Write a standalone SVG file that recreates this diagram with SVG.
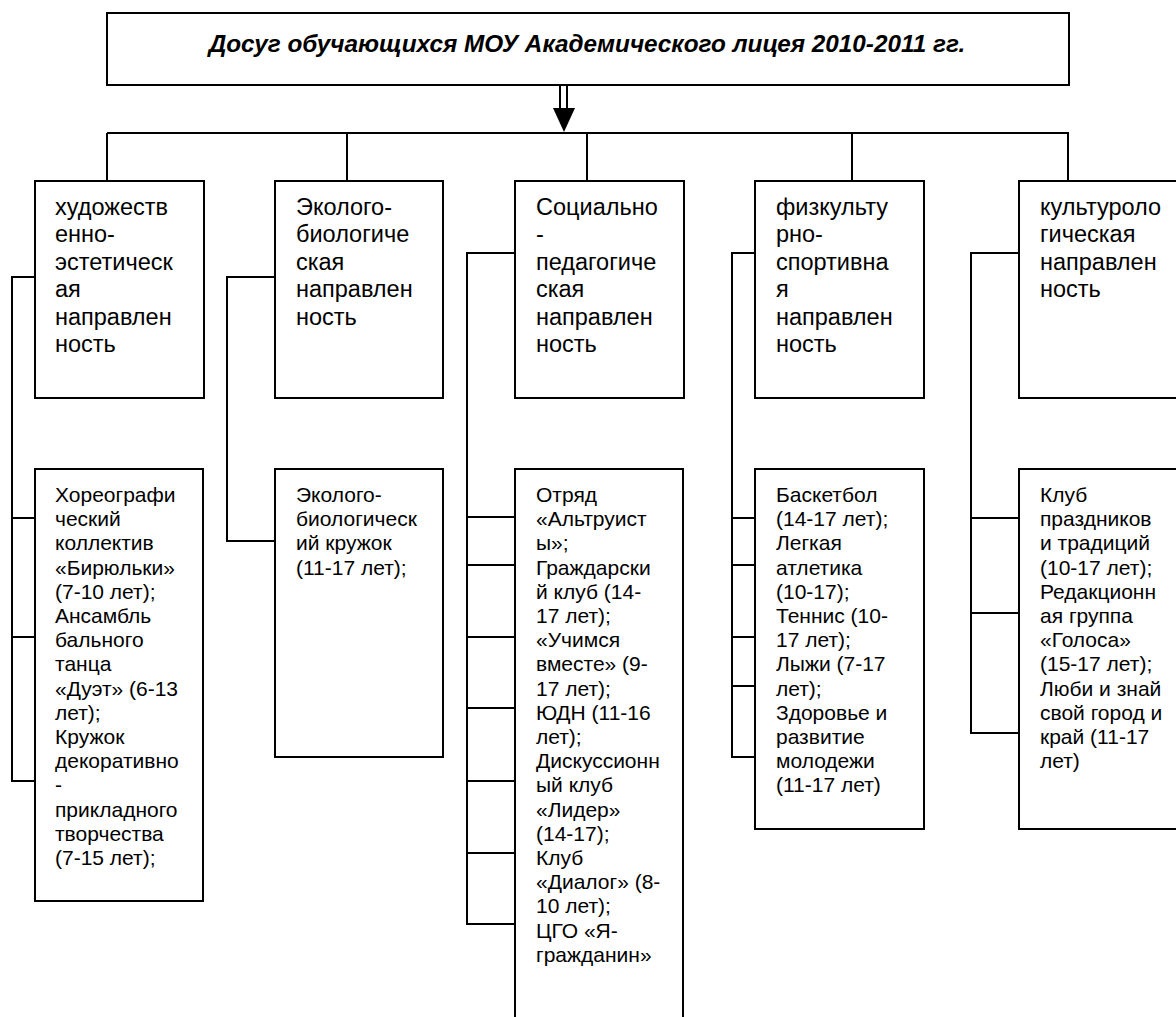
<svg xmlns="http://www.w3.org/2000/svg" width="1176" height="1017" viewBox="0 0 1176 1017">
<style>
.box{fill:#fff;stroke:#000;stroke-width:2}
.ln{fill:none;stroke:#000;stroke-width:2}
.t{font-family:"Liberation Sans",Arial,sans-serif;font-size:23.5px;fill:#000}
.s{font-family:"Liberation Sans",Arial,sans-serif;font-size:21px;fill:#000}
.title{font-family:"Liberation Sans",Arial,sans-serif;font-size:24.3px;font-weight:bold;font-style:italic;fill:#000}
</style>
<rect width="1176" height="1017" fill="#fff"/>
<g id="connectors">
<path class="ln" d="M560,85V110M567,85V110"/>
<polygon points="553,108 575,108 564,132" fill="#000"/>
<path class="ln" d="M107,133H1069M107,133V181M347,133V181M587,133V181M852,133V181M1068,133V181"/>
<path class="ln" d="M35,277H12V781H35M12,518H35M12,637H35"/>
<path class="ln" d="M275,277H227V541H275"/>
<path class="ln" d="M515,253H467V924H515M467,517H515M467,565H515M467,637H515M467,708H515M467,781H515M467,853H515"/>
<path class="ln" d="M755,253H732V757H755M732,518H755M732,565H755M732,637H755M732,686H755"/>
<path class="ln" d="M1019,253H971V733H1019M971,518H1019M971,613H1019"/>
</g>
<g id="title">
<rect class="box" x="107" y="13" width="962" height="72"/>
<text class="title" x="587" y="52" text-anchor="middle">Досуг обучающихся МОУ Академического лицея 2010-2011 гг.</text>
</g>
<g id="n1">
<rect class="box" x="35" y="181" width="169" height="217"/>
<text class="t" x="55" y="215"><tspan x="55">художеств</tspan><tspan x="55" dy="27.4">енно-</tspan><tspan x="55" dy="27.4">эстетическ</tspan><tspan x="55" dy="27.4">ая</tspan><tspan x="55" dy="27.4">направлен</tspan><tspan x="55" dy="27.4">ность</tspan></text>
</g>
<g id="n2">
<rect class="box" x="275" y="181" width="168" height="217"/>
<text class="t" x="296" y="215"><tspan x="296">Эколого-</tspan><tspan x="296" dy="27.4">биологиче</tspan><tspan x="296" dy="27.4">ская</tspan><tspan x="296" dy="27.4">направлен</tspan><tspan x="296" dy="27.4">ность</tspan></text>
</g>
<g id="n3">
<rect class="box" x="515" y="181" width="169" height="217"/>
<text class="t" x="536" y="215"><tspan x="536">Социально</tspan><tspan x="536" dy="27.4">-</tspan><tspan x="536" dy="27.4">педагогиче</tspan><tspan x="536" dy="27.4">ская</tspan><tspan x="536" dy="27.4">направлен</tspan><tspan x="536" dy="27.4">ность</tspan></text>
</g>
<g id="n4">
<rect class="box" x="755" y="181" width="169" height="217"/>
<text class="t" x="776" y="215"><tspan x="776">физкульту</tspan><tspan x="776" dy="27.4">рно-</tspan><tspan x="776" dy="27.4">спортивна</tspan><tspan x="776" dy="27.4">я</tspan><tspan x="776" dy="27.4">направлен</tspan><tspan x="776" dy="27.4">ность</tspan></text>
</g>
<g id="n5">
<rect class="box" x="1019" y="181" width="169" height="217"/>
<text class="t" x="1040" y="215"><tspan x="1040">культуроло</tspan><tspan x="1040" dy="27.4">гическая</tspan><tspan x="1040" dy="27.4">направлен</tspan><tspan x="1040" dy="27.4">ность</tspan></text>
</g>
<g id="b1">
<rect class="box" x="35" y="469" width="168" height="432"/>
<text class="s" x="55" y="502"><tspan x="55">Хореографи</tspan><tspan x="55" dy="24.2">ческий</tspan><tspan x="55" dy="24.2">коллектив</tspan><tspan x="55" dy="24.2">«Бирюльки»</tspan><tspan x="55" dy="24.2">(7-10 лет);</tspan><tspan x="55" dy="24.2">Ансамбль</tspan><tspan x="55" dy="24.2">бального</tspan><tspan x="55" dy="24.2">танца</tspan><tspan x="55" dy="24.2">«Дуэт» (6-13</tspan><tspan x="55" dy="24.2">лет);</tspan><tspan x="55" dy="24.2">Кружок</tspan><tspan x="55" dy="24.2">декоративно</tspan><tspan x="55" dy="24.2">-</tspan><tspan x="55" dy="24.2">прикладного</tspan><tspan x="55" dy="24.2">творчества</tspan><tspan x="55" dy="24.2">(7-15 лет);</tspan></text>
</g>
<g id="b2">
<rect class="box" x="275" y="469" width="168" height="288"/>
<text class="s" x="296" y="502"><tspan x="296">Эколого-</tspan><tspan x="296" dy="24.2">биологическ</tspan><tspan x="296" dy="24.2">ий кружок</tspan><tspan x="296" dy="24.2">(11-17 лет);</tspan></text>
</g>
<g id="b3">
<rect class="box" x="515" y="469" width="168" height="570"/>
<text class="s" x="536" y="502"><tspan x="536">Отряд</tspan><tspan x="536" dy="24.2">«Альтруист</tspan><tspan x="536" dy="24.2">ы»;</tspan><tspan x="536" dy="24.2">Граждарски</tspan><tspan x="536" dy="24.2">й клуб (14-</tspan><tspan x="536" dy="24.2">17 лет);</tspan><tspan x="536" dy="24.2">«Учимся</tspan><tspan x="536" dy="24.2">вместе» (9-</tspan><tspan x="536" dy="24.2">17 лет);</tspan><tspan x="536" dy="24.2">ЮДН (11-16</tspan><tspan x="536" dy="24.2">лет);</tspan><tspan x="536" dy="24.2">Дискуссионн</tspan><tspan x="536" dy="24.2">ый клуб</tspan><tspan x="536" dy="24.2">«Лидер»</tspan><tspan x="536" dy="24.2">(14-17);</tspan><tspan x="536" dy="24.2">Клуб</tspan><tspan x="536" dy="24.2">«Диалог» (8-</tspan><tspan x="536" dy="24.2">10 лет);</tspan><tspan x="536" dy="24.2">ЦГО «Я-</tspan><tspan x="536" dy="24.2">гражданин»</tspan></text>
</g>
<g id="b4">
<rect class="box" x="755" y="469" width="169" height="360"/>
<text class="s" x="776" y="502"><tspan x="776">Баскетбол</tspan><tspan x="776" dy="24.2">(14-17 лет);</tspan><tspan x="776" dy="24.2">Легкая</tspan><tspan x="776" dy="24.2">атлетика</tspan><tspan x="776" dy="24.2">(10-17);</tspan><tspan x="776" dy="24.2">Теннис (10-</tspan><tspan x="776" dy="24.2">17 лет);</tspan><tspan x="776" dy="24.2">Лыжи (7-17</tspan><tspan x="776" dy="24.2">лет);</tspan><tspan x="776" dy="24.2">Здоровье и</tspan><tspan x="776" dy="24.2">развитие</tspan><tspan x="776" dy="24.2">молодежи</tspan><tspan x="776" dy="24.2">(11-17 лет)</tspan></text>
</g>
<g id="b5">
<rect class="box" x="1019" y="469" width="169" height="360"/>
<text class="s" x="1040" y="502"><tspan x="1040">Клуб</tspan><tspan x="1040" dy="24.2">праздников</tspan><tspan x="1040" dy="24.2">и традиций</tspan><tspan x="1040" dy="24.2">(10-17 лет);</tspan><tspan x="1040" dy="24.2">Редакционн</tspan><tspan x="1040" dy="24.2">ая группа</tspan><tspan x="1040" dy="24.2">«Голоса»</tspan><tspan x="1040" dy="24.2">(15-17 лет);</tspan><tspan x="1040" dy="24.2">Люби и знай</tspan><tspan x="1040" dy="24.2">свой город и</tspan><tspan x="1040" dy="24.2">край (11-17</tspan><tspan x="1040" dy="24.2">лет)</tspan></text>
</g>
</svg>
